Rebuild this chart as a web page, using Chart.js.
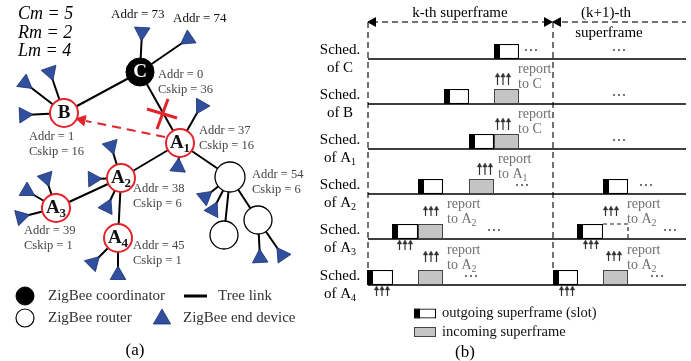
<!DOCTYPE html>
<html lang="en">

<head>
    <meta charset="UTF-8">
    <meta name="viewport" content="width=device-width, initial-scale=1.0">
    <title>ZigBee tree and superframe schedule</title>
    <script src="https://cdn.jsdelivr.net/npm/chart.js"></script>
    <style>
        body { margin: 0; background: #fff; }
        canvas { display: block; }
    </style>
</head>

<body>
    <canvas id="grafico" width="691" height="361"></canvas>
</body>

<script>

// ---------- (a) tree ----------
const params = ['Cm = 5', 'Rm = 2', 'Lm = 4'];
const paramY = [14, 33, 51];

const nodeNames = ['C', 'B', 'A_1', 'A_2', 'A_3', 'A_4', 'R', 'R1', 'R2'];
const nodeX = [140, 64, 180, 121, 56, 118, 230, 224, 258];
const nodeY = [72, 113, 143, 178, 208, 238, 177, 235, 220];
const nodeKind = ['coord', 'marked', 'marked', 'marked', 'marked', 'marked', 'router', 'router', 'router'];
const nodeSize = [14, 14, 14, 14, 14, 14, 15, 14, 14];

const treeLinks = [['C', 'B'], ['C', 'A_1'], ['A_1', 'A_2'], ['A_1', 'R'], ['A_2', 'A_3'], ['A_2', 'A_4'], ['R', 'R1'], ['R', 'R2']];

// end devices: parent + position
const endParent = ['C', 'C', 'B', 'B', 'B', 'A_1', 'A_1', 'A_2', 'A_2', 'A_2', 'A_3', 'A_3', 'A_3', 'A_4', 'A_4', 'R', 'R', 'R2', 'R2'];
const endX = [142, 188, 50, 25, 24, 201, 178, 111, 93, 107, 46, 27, 21, 93, 118, 205, 213, 260, 282];
const endY = [32, 39, 72, 83, 115, 106, 167, 146, 179, 207, 178, 191, 217, 263, 275, 197, 210, 258, 255];

const addrNodes = ['C', 'B', 'A_1', 'A_2', 'A_3', 'A_4', 'R'];
const addrValues = [0, 1, 37, 38, 39, 45, 54];
const cskipValues = [36, 16, 16, 6, 1, 1, 6];
const addrLabelX = [158, 29, 199, 133, 24, 133, 252];
const addrLabelY = [75, 137, 131, 189, 231, 246, 175];

const leafAddr = [73, 74];
const leafAddrX = [111, 173];
const leafAddrY = [15, 19];

// ---------- (b) schedule ----------
const schedRows = ['C', 'B', 'A_1', 'A_2', 'A_3', 'A_4'];
const rowBaseY = [59, 104, 149, 194, 239, 285];
const frameStart = [368, 553];
const frameEnd = 686;

// [row, start, end]
const outgoingSlots = [[0, 494, 519], [1, 444, 469], [2, 469, 494], [3, 418, 443], [3, 603, 628],
    [4, 392, 418], [4, 577, 603], [5, 367, 393], [5, 553, 578]];
const incomingSlots = [[1, 494, 519], [2, 494, 519], [3, 469, 494], [4, 418, 443], [5, 418, 443], [5, 603, 628]];
const skippedSlots = [[4, 603, 628]];
const beaconW = 6;

// [row, x, parent]
const reports = [[1, 518, 'C'], [2, 518, 'C'], [3, 498, 'A_1'], [4, 447, 'A_2'], [5, 447, 'A_2'], [4, 627, 'A_2'], [5, 627, 'A_2']];

// groups of three up arrows
const upX = [503, 503, 485, 431, 405, 431, 382, 611, 591, 614, 567];
const upTop = [74, 119, 164, 207, 241, 252, 287, 207, 241, 252, 287];
const upBottom = [85, 130, 175, 216, 250, 262, 296, 216, 249, 261, 296];

// "..." marks
const moreX = [531, 619, 619, 619, 522, 646, 494, 670, 471, 657];
const moreRow = [0, 0, 1, 2, 3, 3, 4, 4, 5, 5];

// ---------- helpers ----------
const SERIF = '"Liberation Serif", "Times New Roman", serif';
const BLUE = '#30509f';
const RED = '#e3242b';

function nodeAt(name) {
    const i = nodeNames.indexOf(name);
    return { x: nodeX[i], y: nodeY[i] };
}

function polylines(list) {
    const out = [];
    list.forEach(pts => {
        pts.forEach(p => out.push({ x: p[0], y: p[1] }));
        out.push({ x: null, y: null });
    });
    return out;
}

function lineSet(list, color, width, dash, order) {
    return {
        showLine: true, data: polylines(list), borderColor: color, borderWidth: width,
        borderDash: dash || [], pointRadius: 0, fill: false, spanGaps: false, order: order
    };
}

function pointSet(pts, style, radius, bg, border, bw, rot, order) {
    return {
        data: pts, pointStyle: style, pointRadius: radius, backgroundColor: bg,
        borderColor: border, borderWidth: bw, rotation: rot || 0, order: order
    };
}

function pointTo(fx, fy, tx, ty) {
    return Math.atan2(tx - fx, -(ty - fy)) * 180 / Math.PI;
}

function barSet(slots, h, fill, border, bw, order, start, width) {
    return {
        type: 'bar', indexAxis: 'y', stack: 'boxes', barThickness: h, borderSkipped: false,
        inflateAmount: 0, backgroundColor: fill, borderColor: border, borderWidth: bw, order: order,
        data: slots.map(s => ({ x: [s[1], width ? s[1] + width : s[2]], y: (start ? start[s[0]] : rowBaseY[s[0]]) - h / 2 }))
    };
}

// ---------- datasets ----------
var datasets = [];

// tree links and end device stems
var edges = treeLinks.map(l => [[nodeAt(l[0]).x, nodeAt(l[0]).y], [nodeAt(l[1]).x, nodeAt(l[1]).y]]);
endParent.forEach((p, i) => edges.push([[nodeAt(p).x, nodeAt(p).y], [endX[i], endY[i]]]));
datasets.push(lineSet(edges, '#000', 2, null, 9));
datasets.push(lineSet([[[184, 296], [207, 296]]], '#000', 3, null, 9));

// re-parent arrow A1 -> B
datasets.push(lineSet([[[165, 137], [86, 121]]], RED, 2, [9, 6], 9));
datasets.push(pointSet([{ x: 82, y: 120 }], 'triangle', 6, RED, RED, 1, pointTo(82, 120, 64, 116), 4));
// broken link
datasets.push(lineSet([[[147, 109], [177, 118]], [[168, 99], [157, 129]]], RED, 3, null, 4));

// nodes
var coordPts = [], markedPts = [], routerPts = [], markedR = [], routerR = [];
nodeNames.forEach((n, i) => {
    const p = { x: nodeX[i], y: nodeY[i] };
    if (nodeKind[i] === 'coord') coordPts.push(p);
    if (nodeKind[i] === 'marked') { markedPts.push(p); markedR.push(nodeSize[i]); }
    if (nodeKind[i] === 'router') { routerPts.push(p); routerR.push(nodeSize[i]); }
});
datasets.push(pointSet(coordPts, 'circle', 14, '#000', '#000', 1, 0, 5));
datasets.push(pointSet(markedPts, 'circle', markedR, '#fff', RED, 2, 0, 5));
datasets.push(pointSet(routerPts, 'circle', routerR, '#fff', '#000', 1.3, 0, 5));

// end devices (triangle vertex towards parent)
var endPts = endX.map((x, i) => ({ x: x, y: endY[i] }));
var endRot = endX.map((x, i) => pointTo(x, endY[i], nodeAt(endParent[i]).x, nodeAt(endParent[i]).y));
datasets.push(pointSet(endPts, 'triangle', 9, BLUE, '#1b2f6b', 0.8, endRot, 5));

// legend (a)
datasets.push(pointSet([{ x: 25, y: 296 }], 'circle', 9, '#000', '#000', 1, 0, 5));
datasets.push(pointSet([{ x: 25, y: 318 }], 'circle', 9, '#fff', '#000', 1.2, 0, 5));
datasets.push(pointSet([{ x: 162, y: 319 }], 'triangle', 10, BLUE, '#1b2f6b', 0.8, 0, 5));

// schedule frame
datasets.push(lineSet(rowBaseY.map(y => [[frameStart[0], y], [frameEnd, y]]), '#000', 1.5, null, 9));
datasets.push(lineSet(frameStart.map(x => [[x, 22], [x, 270]]), '#444', 1.5, [6, 4], 9));
datasets.push(lineSet([[[372, 22], [frameEnd, 22]]], '#444', 1.5, [6, 4], 9));
datasets.push(pointSet([{ x: 373, y: 22 }, { x: 547, y: 22 }, { x: 558, y: 22 }], 'triangle', 5, '#000', '#000', 1, [-90, 90, -90], 5));

// slots
datasets.push(barSet(outgoingSlots, 15, '#fff', '#000', 1.2, 7));
datasets.push(barSet(outgoingSlots, 15, '#000', '#000', 1, 6, null, beaconW));
datasets.push(barSet(incomingSlots, 15, '#c4c4c4', '#444', 1.2, 7));
datasets.push(lineSet(skippedSlots.map(s => [[s[1], rowBaseY[s[0]] - 15], [s[2], rowBaseY[s[0]] - 15], [s[2], rowBaseY[s[0]]]]), '#222', 1.2, [4, 3], 6));

// legend (b)
datasets.push(barSet([[0, 414, 436]], 10, '#fff', '#000', 1.2, 7, [318.5]));
datasets.push(barSet([[0, 414, 436]], 10, '#000', '#000', 1, 6, [318.5], beaconW));
datasets.push(barSet([[0, 414, 436]], 10, '#c4c4c4', '#444', 1.2, 7, [337]));

// up arrows
var shafts = [], heads = [];
upX.forEach((cx, i) => {
    [-5.5, 0, 5.5].forEach(d => {
        shafts.push([[cx + d, upBottom[i]], [cx + d, upTop[i] + 2]]);
        heads.push({ x: cx + d, y: upTop[i] + 1.6 });
    });
});
datasets.push(lineSet(shafts, '#333', 1.2, null, 6));
datasets.push(pointSet(heads, 'triangle', 2.6, '#333', '#333', 0.5, 0, 5));

// "..." marks
var dots = [];
moreX.forEach((x, i) => [-5, 0, 5].forEach(d => dots.push({ x: x + d, y: rowBaseY[moreRow[i]] - 9 })));
datasets.push(pointSet(dots, 'circle', 0.9, '#333', '#333', 0, 0, 5));

// ---------- texts ----------
var texts = [];
function txt(t, x, y, size, opts) {
    texts.push(Object.assign({ t: t, x: x, y: y, size: size, color: '#000', align: 'left', weight: 'normal', style: 'normal' }, opts || {}));
}

params.forEach((p, i) => txt(p, 18, paramY[i], 18, { style: 'italic' }));
leafAddr.forEach((a, i) => txt('Addr = ' + a, leafAddrX[i], leafAddrY[i], 13, { color: '#111' }));
addrNodes.forEach((n, i) => {
    txt('Addr = ' + addrValues[i], addrLabelX[i], addrLabelY[i], 12.5, { color: '#444' });
    txt('Cskip = ' + cskipValues[i], addrLabelX[i], addrLabelY[i] + 15, 12.5, { color: '#444' });
});
nodeNames.forEach((n, i) => {
    if (nodeKind[i] === 'router') return;
    txt(n, nodeX[i], nodeY[i], 19, { align: 'center', weight: 'bold', color: nodeKind[i] === 'coord' ? '#fff' : '#111' });
});
txt('ZigBee coordinator', 48, 296, 15, { color: '#333' });
txt('ZigBee router', 48, 318, 15, { color: '#333' });
txt('Tree link', 218, 296, 15, { color: '#333' });
txt('ZigBee end device', 183, 318, 15, { color: '#333' });
txt('(a)', 135, 351, 17, { align: 'center' });

txt('k-th superframe', 460, 13, 15, { align: 'center' });
txt('(k+1)-th', 606, 13, 15, { align: 'center' });
txt('superframe', 609, 33, 15, { align: 'center' });
schedRows.forEach((r, i) => {
    txt('Sched.', 340, rowBaseY[i] - 9, 15, { align: 'center' });
    txt('of ' + r, 340, rowBaseY[i] + 9, 15, { align: 'center' });
});
reports.forEach(r => {
    txt('report', r[1], rowBaseY[r[0]] - 35, 14, { color: '#707070' });
    txt('to ' + r[2], r[1], rowBaseY[r[0]] - 20, 14, { color: '#707070' });
});
txt('outgoing superframe (slot)', 442, 313, 14.5, { color: '#111' });
txt('incoming superframe', 442, 332, 14.5, { color: '#111' });
txt('(b)', 465, 353, 17, { align: 'center' });

function drawRich(ctx, t, px, py) {
    const parts = t.t.split('_');
    const mainFont = `${t.style} ${t.weight} ${t.size}px ${SERIF}`;
    const subFont = `${t.style} ${t.weight} ${Math.round(t.size * 0.68)}px ${SERIF}`;
    ctx.font = mainFont;
    const w1 = ctx.measureText(parts[0]).width;
    let w2 = 0;
    if (parts[1]) { ctx.font = subFont; w2 = ctx.measureText(parts[1]).width; }
    let x0 = px;
    if (t.align === 'center') x0 = px - (w1 + w2) / 2;
    ctx.fillStyle = t.color;
    ctx.textAlign = 'left';
    ctx.textBaseline = 'middle';
    ctx.font = mainFont;
    ctx.fillText(parts[0], x0, py);
    if (parts[1]) {
        ctx.font = subFont;
        ctx.fillText(parts[1], x0 + w1, py + t.size * 0.28);
    }
}

const textPlugin = {
    id: 'textos',
    afterDatasetsDraw(chart) {
        const ctx = chart.ctx, xs = chart.scales.x, ys = chart.scales.y;
        ctx.save();
        texts.forEach(t => drawRich(ctx, t, xs.getPixelForValue(t.x), ys.getPixelForValue(t.y)));
        ctx.restore();
    }
};

const grafico = new Chart(document.getElementById('grafico'), {
    type: 'scatter',
    data: { datasets: datasets },
    options: {
        responsive: false,
        animation: false,
        events: [],
        layout: { padding: 0, autoPadding: false },
        plugins: { legend: { display: false }, tooltip: { enabled: false } },
        scales: {
            x: { type: 'linear', min: 0, max: 691, display: false, stacked: false, offset: false },
            y: { type: 'linear', min: 0, max: 361, reverse: true, display: false, offset: false }
        }
    },
    plugins: [textPlugin]
});

</script>

</html>
